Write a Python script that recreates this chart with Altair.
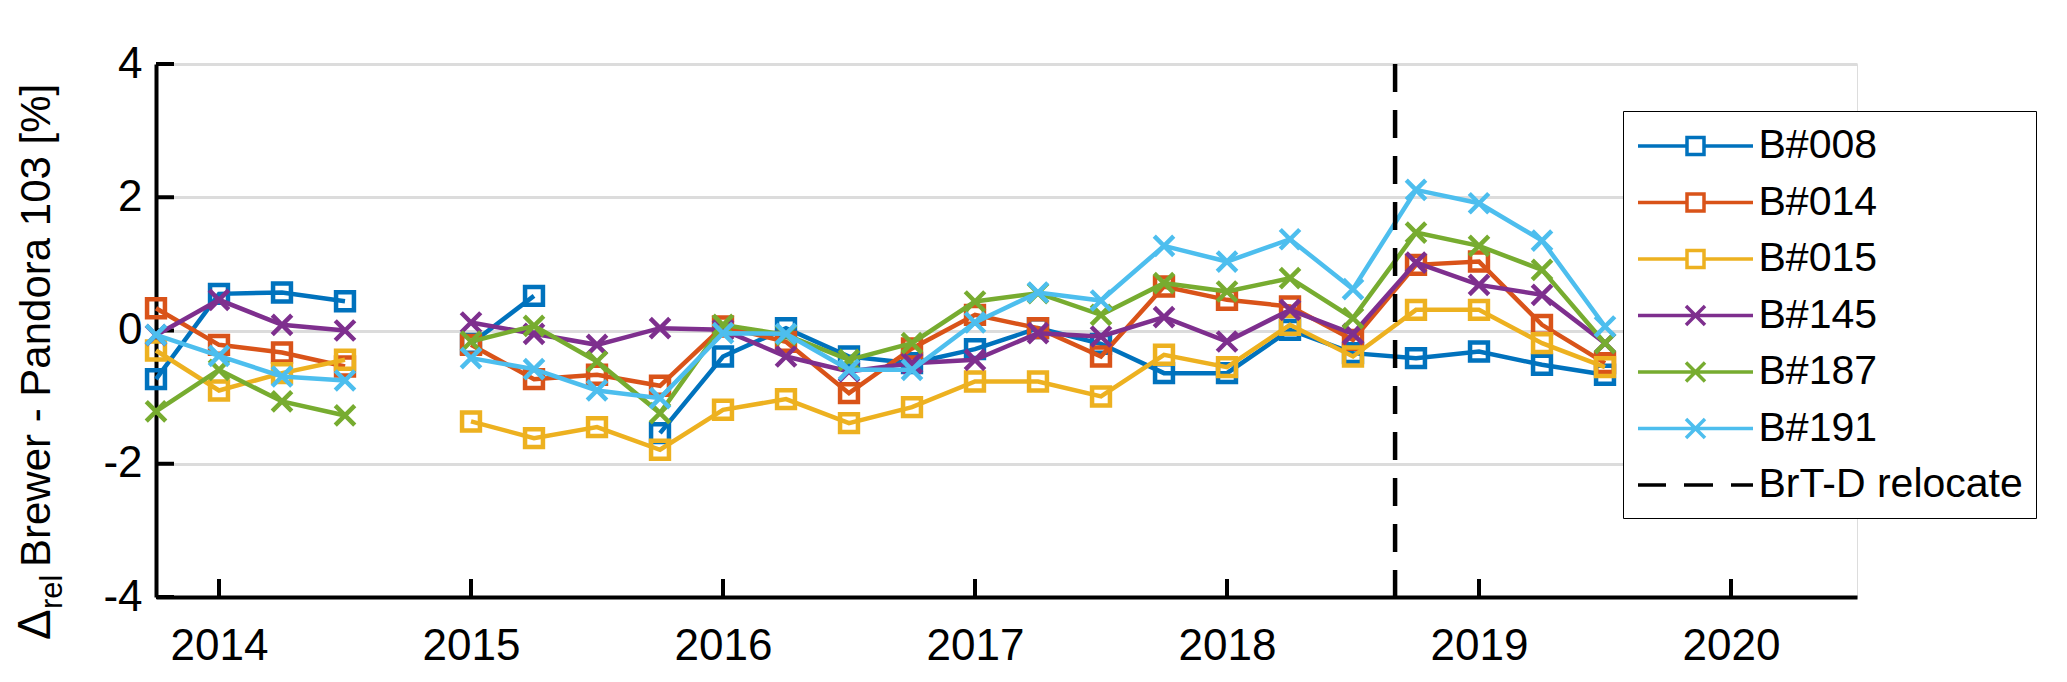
import altair as alt
import pandas as pd

# ---------------- data ----------------
quarters = [2013.75, 2014.0, 2014.25, 2014.5, 2015.0, 2015.25, 2015.5, 2015.75,
            2016.0, 2016.25, 2016.5, 2016.75, 2017.0, 2017.25, 2017.5, 2017.75,
            2018.0, 2018.25, 2018.5, 2018.75, 2019.0, 2019.25, 2019.5]

b008 = [-0.73, 0.55, 0.57, 0.44, -0.20, 0.52, None, -1.54, -0.39, 0.035, -0.39, -0.49,
        -0.28, 0.035, -0.20, -0.64, -0.64, 0.01, -0.34, -0.415, -0.315, -0.515, -0.665]
b014 = [0.335, -0.215, -0.33, -0.54, -0.215, -0.73, -0.665, -0.83, 0.06, -0.17, -0.94, -0.27,
        0.235, 0.035, -0.39, 0.66, 0.46, 0.36, -0.14, 0.985, 1.035, 0.085, -0.49]
b015 = [-0.30, -0.90, -0.64, -0.44, -1.365, -1.615, -1.45, -1.79, -1.19, -1.03, -1.39, -1.15,
        -0.765, -0.765, -0.99, -0.365, -0.55, 0.085, -0.39, 0.31, 0.31, -0.19, -0.55]
b145 = [-0.07, 0.46, 0.085, 0.0, 0.12, -0.05, -0.215, 0.035, 0.01, -0.39, -0.615, -0.49,
        -0.44, -0.04, -0.09, 0.20, -0.165, 0.31, -0.05, 1.02, 0.685, 0.535, -0.19]
b187 = [-1.215, -0.59, -1.065, -1.275, -0.165, 0.07, -0.465, -1.24, 0.085, -0.065, -0.44, -0.19,
        0.435, 0.56, 0.235, 0.71, 0.585, 0.785, 0.185, 1.47, 1.27, 0.91, -0.19]
b191 = [-0.065, -0.38, -0.69, -0.75, -0.415, -0.58, -0.90, -1.015, -0.04, -0.05, -0.59, -0.59,
        0.12, 0.57, 0.45, 1.27, 1.035, 1.37, 0.62, 2.11, 1.91, 1.35, 0.06]

series_names = ["B#008", "B#014", "B#015", "B#145", "B#187", "B#191"]
series_values = [b008, b014, b015, b145, b187, b191]
series_colors = ["#0072BD", "#D95319", "#EDB120", "#7E2F8E", "#77AC30", "#4DBEEE"]
series_markers = ["square", "square", "square", "x", "x", "x"]

relocate_name = "BrT-D relocate"
relocate_x = [2018.667]

x_ticks = [2014, 2015, 2016, 2017, 2018, 2019, 2020]
y_ticks = [-4, -2, 0, 2, 4]
x_domain = [2013.75, 2020.5]
y_domain = [-4, 4]

# ---------------- long table with line segments ----------------
rows = []
for name, vals in zip(series_names, series_values):
    seg = 0
    prev = None
    for q, v in zip(quarters, vals):
        if v is None:
            prev = None
            continue
        if prev is None or q - prev > 0.3:
            seg += 1
        rows.append({"series": name, "x": q, "y": v, "seg": seg})
        prev = q
df = pd.DataFrame(rows)

# ---------------- styling ----------------
FONT = "Liberation Sans"
W, H = 1701, 533
PAD = {"left": 148, "top": 56, "right": 202, "bottom": 77}

X_PATH = "M-1,-1L1,1M-1,1L1,-1"
# legend symbols: unit = sqrt(symbolSize)/2 = 20 px; line spans +-57.5 px
LEG_SQ = ("M-2.875,0L-0.425,0M0.425,0L2.875,0"
          "M-0.425,-0.425L0.425,-0.425L0.425,0.425L-0.425,0.425Z")
LEG_X = ("M-2.875,0L2.875,0"
         "M-0.475,-0.475L0.475,0.475M-0.475,0.475L0.475,-0.475")
LEG_DASH = "M-2.875,0L-1.475,0M-0.575,0L0.875,0M1.775,0L2.875,0"
legend_shapes = [LEG_SQ, LEG_SQ, LEG_SQ, LEG_X, LEG_X, LEG_X, LEG_DASH]

all_names = series_names + [relocate_name]

x_scale = alt.Scale(domain=x_domain, nice=False, zero=False)
y_scale = alt.Scale(domain=y_domain, nice=False, zero=False)

x_axis = alt.Axis(values=x_ticks, format="d", title="", grid=False, ticks=False,
                  domainColor="black", domainWidth=4, labelFontSize=44, labelFont=FONT,
                  labelColor="black", labelPadding=27, labelFlush=False)
y_axis = alt.Axis(values=y_ticks, title="", grid=True, gridColor="#dcdcdc", gridWidth=3,
                  ticks=False, domainColor="black", domainWidth=4, labelFontSize=44,
                  labelFont=FONT, labelColor="black", labelPadding=14, labelFlush=False,
                  labelExpr="'' + datum.value")

legend = alt.Legend(
    title=None, orient="none", legendX=1467, legendY=47,
    symbolSize=1600, symbolStrokeWidth=3.5, symbolOpacity=1, symbolOffset=37.5,
    labelFont=FONT, labelFontSize=41, labelColor="black", labelOffset=41, labelLimit=500,
    padding=13, rowPadding=14.5, strokeColor="black", fillColor="white",
)

color_enc = alt.Color("series:N",
                      scale=alt.Scale(domain=all_names, range=series_colors + ["black"]),
                      legend=legend)
shape_enc = alt.Shape("series:N",
                      scale=alt.Scale(domain=all_names, range=legend_shapes),
                      legend=legend)
x_enc = alt.X("x:Q", scale=x_scale, axis=x_axis)
y_enc = alt.Y("y:Q", scale=y_scale, axis=y_axis)

layers = []

# inward ticks
layers.append(
    alt.Chart(pd.DataFrame({"x": x_ticks})).mark_rule(color="black", strokeWidth=4)
    .encode(x=x_enc, y=alt.value(H), y2=alt.value(H - 18))
)
layers.append(
    alt.Chart(pd.DataFrame({"y": y_ticks})).mark_rule(color="black", strokeWidth=4)
    .encode(y=y_enc, x=alt.value(0), x2=alt.value(18))
)

# series (line + markers, in plotting order)
for name, marker in zip(series_names, series_markers):
    base = alt.Chart(df).transform_filter(alt.datum.series == name)
    layers.append(
        base.mark_line(strokeWidth=4.5)
        .encode(x=x_enc, y=y_enc, color=color_enc, detail="seg:N")
    )
    if marker == "square":
        pt = base.mark_point(shape="square", filled=False, size=320, strokeWidth=4.5, opacity=1)
    else:
        pt = base.mark_point(shape=X_PATH, filled=False, size=380, strokeWidth=4.5, opacity=1)
    layers.append(pt.encode(x=x_enc, y=y_enc, color=color_enc))

# relocation line
layers.append(
    alt.Chart(pd.DataFrame({"series": [relocate_name], "x": relocate_x}))
    .mark_rule(strokeWidth=4.5, strokeDash=[28, 18])
    .encode(x=x_enc, color=color_enc)
)

# legend carrier (invisible marks; legend symbols come from the shape scale)
layers.append(
    alt.Chart(pd.DataFrame({"series": all_names}))
    .mark_point(filled=False, opacity=0)
    .encode(color=color_enc, shape=shape_enc)
)

# y-axis title with subscript
one = pd.DataFrame({"k": [0]})
layers.append(
    alt.Chart(one).mark_text(text="\u0394", angle=270, align="left", baseline="alphabetic",
                             fontSize=46, font=FONT, color="black")
    .encode(x=alt.value(-106), y=alt.value(576))
)
layers.append(
    alt.Chart(one).mark_text(text="rel", angle=270, align="left", baseline="alphabetic",
                             fontSize=31, font=FONT, color="black")
    .encode(x=alt.value(-94), y=alt.value(545))
)
layers.append(
    alt.Chart(one).mark_text(text="Brewer - Pandora 103 [%]", angle=270, align="left",
                             baseline="alphabetic", fontSize=42, font=FONT, color="black")
    .encode(x=alt.value(-106), y=alt.value(503))
)

chart = (
    alt.layer(*layers)
    .properties(width=W, height=H, autosize=alt.AutoSizeParams(type="none"), padding=PAD)
    .configure_view(strokeWidth=0)
    .configure_legend(strokeWidth=3)
    .configure(font=FONT)
)

chart.save("out.html", embed_options={"renderer": "svg", "actions": False})
